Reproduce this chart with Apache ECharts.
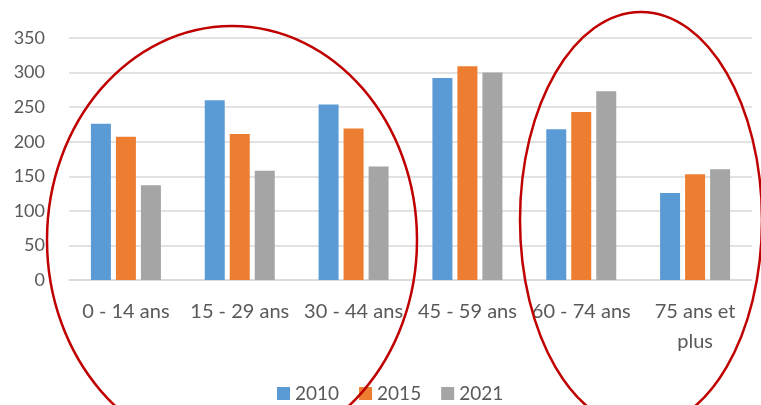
<!DOCTYPE html>
<html>
<head>
<meta charset="utf-8">
<script src="https://cdn.jsdelivr.net/npm/echarts@6/dist/echarts.min.js"></script>
<style>
  html, body { margin: 0; padding: 0; background: #fff; }
  #chart { width: 761px; height: 405px; }
</style>
</head>
<body>
<div id="chart"></div>
<script>
  // categories and values
  var ageGroups = ['0 - 14 ans', '15 - 29 ans', '30 - 44 ans', '45 - 59 ans', '60 - 74 ans', '75 ans et plus'];
  var years = ['2010', '2015', '2021'];
  var values2010 = [226, 260, 254, 292, 218, 126];
  var values2015 = [207, 211, 219, 309, 243, 153];
  var values2021 = [137, 158, 164, 300, 273, 160];
  var yTicks = { min: 0, max: 350, interval: 50 };

  var colorList = ['#5b9bd5', '#ed7d31', '#a5a5a5'];
  var seriesValues = [values2010, values2015, values2021];
  var textColor = '#595959';
  var fontName = 'Lato';

  var myChart = echarts.init(document.getElementById('chart'));
  myChart.setOption({
    animation: false,
    textStyle: { fontFamily: fontName },
    grid: { left: 69, right: 9, top: 38, bottom: 125 },
    legend: {
      data: years,
      bottom: -3,
      left: 272,
      icon: 'rect',
      itemWidth: 13,
      itemHeight: 13,
      itemGap: 20,
      textStyle: { color: textColor, fontSize: 19, fontFamily: fontName }
    },
    xAxis: {
      type: 'category',
      data: ageGroups,
      axisLine: { lineStyle: { color: '#d9d9d9', width: 1.5 } },
      axisTick: { show: false },
      axisLabel: {
        interval: 0,
        margin: 17,
        color: textColor,
        fontSize: 20,
        lineHeight: 30,
        formatter: function (v) {
          return v.replace(' et plus', ' et\nplus');
        }
      }
    },
    yAxis: {
      type: 'value',
      min: yTicks.min,
      max: yTicks.max,
      interval: yTicks.interval,
      axisLine: { show: false },
      axisTick: { show: false },
      axisLabel: { color: textColor, fontSize: 18, margin: 24 },
      splitLine: { lineStyle: { color: '#d9d9d9', width: 1.5 } }
    },
    series: years.map(function (y, i) {
      return {
        name: y,
        type: 'bar',
        barWidth: 20,
        barGap: '25%',
        itemStyle: { color: colorList[i] },
        data: seriesValues[i]
      };
    }),
    graphic: [
      {
        type: 'ellipse',
        z: 100,
        shape: { cx: 232, cy: 240, rx: 185, ry: 214 },
        style: { fill: 'none', stroke: '#c00000', lineWidth: 2.5 }
      },
      {
        type: 'ellipse',
        z: 100,
        shape: { cx: 641, cy: 220, rx: 121, ry: 208 },
        style: { fill: 'none', stroke: '#c00000', lineWidth: 2.5 }
      }
    ]
  });
</script>
</body>
</html>
